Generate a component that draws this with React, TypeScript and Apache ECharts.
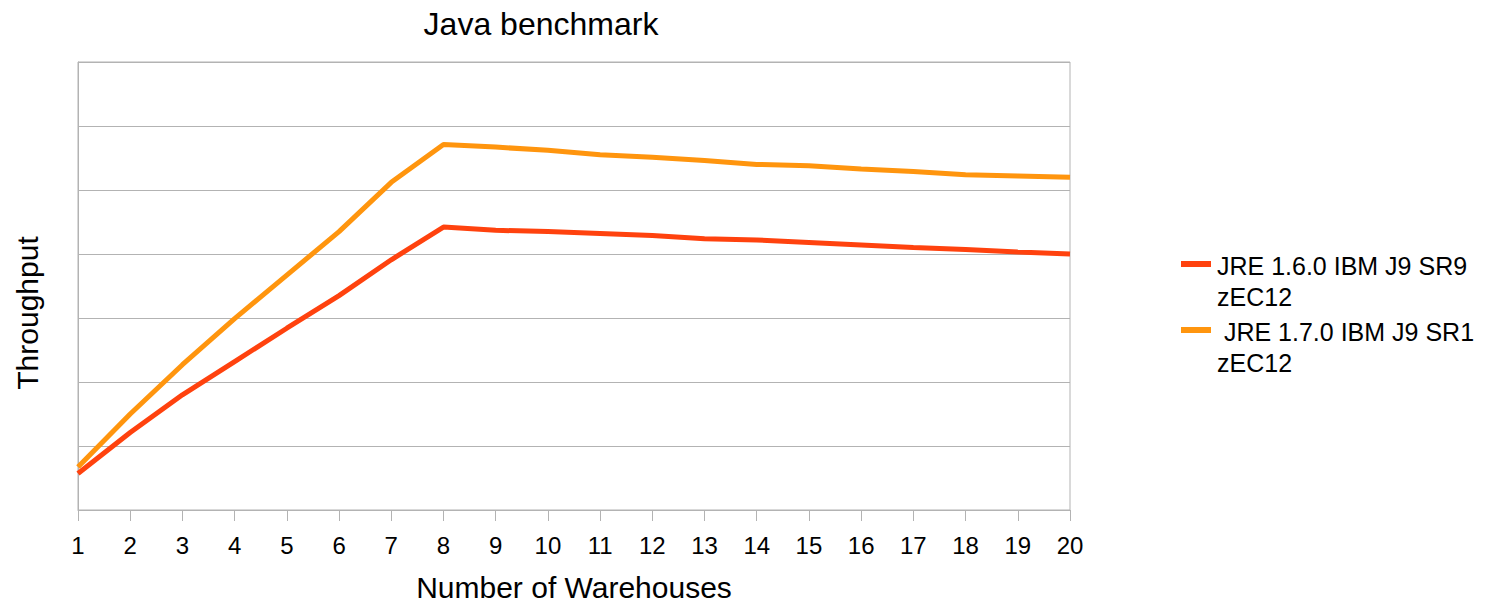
import React, { useEffect, useRef } from "react";
import * as echarts from "echarts";

// Warehouses on the x axis
const warehouses: string[] = [
  "1", "2", "3", "4", "5", "6", "7", "8", "9", "10",
  "11", "12", "13", "14", "15", "16", "17", "18", "19", "20",
];

// Throughput (relative units, 7 grid steps)
const jre16: number[] = [
  0.57, 1.21, 1.8, 2.32, 2.84, 3.35, 3.91, 4.42, 4.37, 4.35,
  4.32, 4.29, 4.24, 4.22, 4.18, 4.14, 4.1, 4.07, 4.03, 4.0,
];
const jre17: number[] = [
  0.67, 1.5, 2.27, 2.99, 3.67, 4.35, 5.12, 5.71, 5.67, 5.62,
  5.55, 5.51, 5.46, 5.4, 5.38, 5.33, 5.29, 5.24, 5.22, 5.2,
];

const seriesNames: string[] = [
  "JRE 1.6.0 IBM J9 SR9\nzEC12",
  " JRE 1.7.0 IBM J9 SR1\nzEC12",
];
const seriesColors: string[] = ["#ff420e", "#ff950e"];

const FONT = '"Liberation Sans", Arial, sans-serif';
const GRID_COLOR = "#b3b3b3";

export default function App() {
  const ref = useRef<HTMLDivElement>(null);

  useEffect(() => {
    if (!ref.current) return;
    const chart = echarts.init(ref.current, null, { renderer: "svg" });

    const legendItems = seriesNames.map((name, i) => {
      const top = i === 0 ? 250 : 316;
      return {
        type: "group",
        children: [
          {
            type: "rect",
            shape: { x: 1181, y: top + 11, width: 30, height: 6 },
            style: { fill: seriesColors[i] },
          },
          {
            type: "text",
            x: 1217,
            y: top,
            style: {
              text: name,
              font: `25px ${FONT}`,
              lineHeight: 31,
              fill: "#000",
              textAlign: "left",
              textVerticalAlign: "top",
            },
          },
        ],
      };
    });

    chart.setOption({
      animation: false,
      backgroundColor: "#ffffff",
      textStyle: { fontFamily: FONT },
      grid: {
        left: 78,
        right: 419,
        top: 62,
        bottom: 91,
        show: true,
        borderColor: GRID_COLOR,
        borderWidth: 1,
        containLabel: false,
      },
      xAxis: {
        type: "category",
        data: warehouses,
        boundaryGap: false,
        name: "Number of Warehouses",
        nameLocation: "middle",
        nameGap: 62,
        nameTextStyle: { fontSize: 30, color: "#000", fontFamily: FONT },
        axisLine: { show: true, lineStyle: { color: GRID_COLOR, width: 1 } },
        axisTick: { show: true, length: 11, lineStyle: { color: GRID_COLOR } },
        axisLabel: { fontSize: 24, color: "#000", margin: 23, fontFamily: FONT },
        splitLine: { show: false },
      },
      yAxis: {
        type: "value",
        min: 0,
        max: 7,
        interval: 1,
        axisLine: { show: true, lineStyle: { color: GRID_COLOR, width: 1 } },
        axisTick: { show: false },
        axisLabel: { show: false },
        splitLine: { show: true, lineStyle: { color: GRID_COLOR, width: 1 } },
      },
      series: [
        {
          name: seriesNames[0],
          type: "line",
          data: jre16,
          showSymbol: false,
          symbol: "none",
          lineStyle: { color: seriesColors[0], width: 5 },
          itemStyle: { color: seriesColors[0] },
          z: 3,
        },
        {
          name: seriesNames[1],
          type: "line",
          data: jre17,
          showSymbol: false,
          symbol: "none",
          lineStyle: { color: seriesColors[1], width: 5 },
          itemStyle: { color: seriesColors[1] },
          z: 2,
        },
      ],
      graphic: [
        {
          type: "text",
          x: 541,
          y: 24,
          style: {
            text: "Java benchmark",
            font: `32px ${FONT}`,
            fill: "#000",
            textAlign: "center",
            textVerticalAlign: "middle",
          },
        },
        {
          type: "text",
          x: 27,
          y: 313,
          rotation: Math.PI / 2,
          style: {
            text: "Throughput",
            font: `30px ${FONT}`,
            fill: "#000",
            textAlign: "center",
            textVerticalAlign: "middle",
          },
        },
        ...legendItems,
      ],
    });

    return () => chart.dispose();
  }, []);

  return (
    <div
      ref={ref}
      style={{ position: "fixed", left: 0, top: 0, width: 1489, height: 607 }}
    />
  );
}
